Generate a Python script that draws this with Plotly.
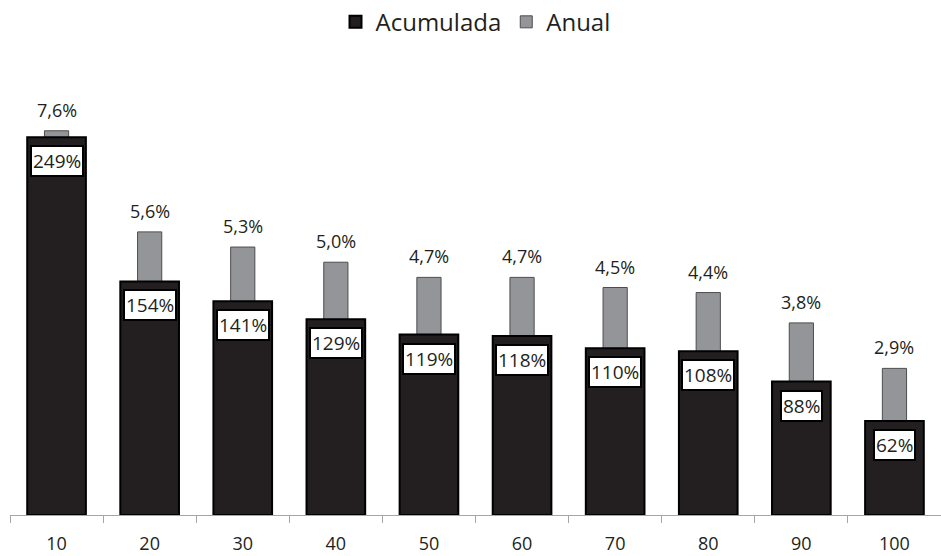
import plotly.graph_objects as go

categories = ["10", "20", "30", "40", "50", "60", "70", "80", "90", "100"]
acumulada = [249, 154, 141, 129, 119, 118, 110, 108, 88, 62]
anual = [7.6, 5.6, 5.3, 5.0, 4.7, 4.7, 4.5, 4.4, 3.8, 2.9]
acum_labels = [f"{v}%" for v in acumulada]
anual_labels = [f"{v:.1f}%".replace(".", ",") for v in anual]

FONT = "Open Sans"

fig = go.Figure()
# gray (Anual) on primary axis, drawn underneath
fig.add_trace(go.Bar(
    x=categories, y=anual, name="Anual", yaxis="y",
    width=0.26, marker=dict(color="#939598", line=dict(color="#4d4d4d", width=1)),
    showlegend=True, legendrank=2,
))
# black (Acumulada) on overlaying axis, drawn on top
fig.add_trace(go.Bar(
    x=categories, y=acumulada, name="Acumulada", yaxis="y2",
    width=0.63, marker=dict(color="#231f20", line=dict(color="#000000", width=2)),
    showlegend=True, legendrank=1,
))

annotations = []
for i, (v, t) in enumerate(zip(acumulada, acum_labels)):
    annotations.append(dict(
        x=i, y=v, xref="x", yref="y2", text=t, showarrow=False,
        yanchor="top", yshift=-8, bgcolor="white", bordercolor="#000000",
        borderwidth=2, borderpad=1, font=dict(family=FONT, size=19, color="#231f20"),
    ))
for i, (v, t) in enumerate(zip(anual, anual_labels)):
    annotations.append(dict(
        x=i, y=v, xref="x", yref="y", text=t, showarrow=False,
        yanchor="bottom", yshift=7, font=dict(family=FONT, size=18, color="#231f20"),
    ))

fig.update_layout(
    width=941, height=556,
    margin=dict(l=10, r=0, t=60, b=41),
    paper_bgcolor="white", plot_bgcolor="white",
    barmode="overlay",
    font=dict(family=FONT, color="#231f20"),
    legend=dict(orientation="h", x=0.5, xanchor="center", y=0.96, yref="container",
                yanchor="middle", font=dict(family=FONT, size=24, color="#231f20"),
                traceorder="normal", itemwidth=30),
    xaxis=dict(type="category", categoryorder="array", categoryarray=categories,
               range=[-0.5, 9.5], showline=True, linecolor="#a6a6a6", linewidth=1,
               ticks="outside", tickson="boundaries", ticklen=7, tickcolor="#a6a6a6",
               tickfont=dict(family=FONT, size=18, color="#231f20"), tickangle=0,
               ticklabelstandoff=12, showgrid=False, zeroline=False, automargin=False),
    yaxis=dict(range=[0, 9], visible=False, showgrid=False, zeroline=False),
    yaxis2=dict(range=[0, 300], overlaying="y", visible=False, showgrid=False, zeroline=False),
    annotations=annotations,
)

fig.write_html("out.html", config={"displayModeBar": False},
               post_script="document.body.style.margin='0';document.body.style.overflow='hidden';")
